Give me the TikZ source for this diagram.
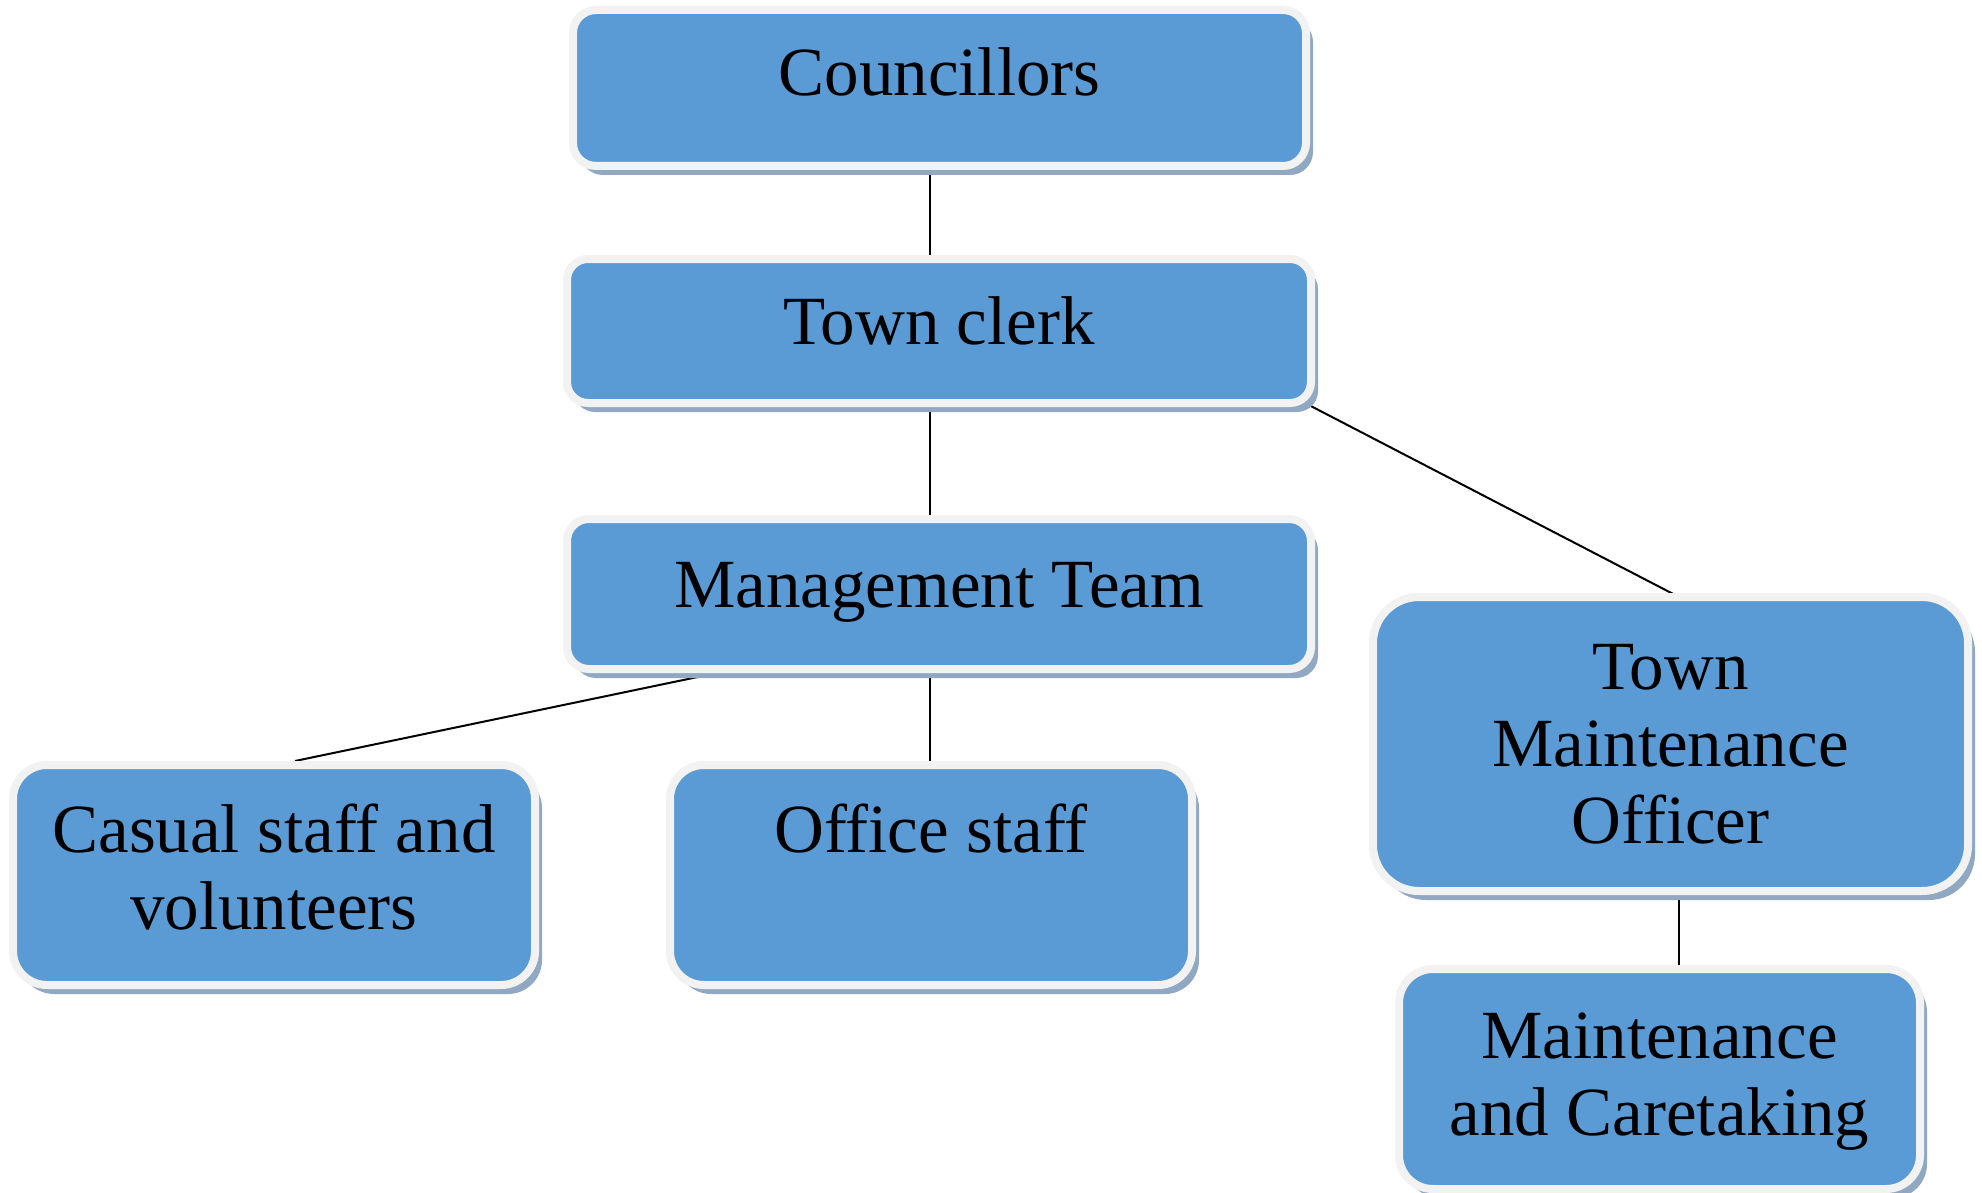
\documentclass[tikz,border=0pt]{standalone}
\usepackage{fontspec}
\setmainfont{Liberation Serif}
\usetikzlibrary{shadows,calc,backgrounds}
\definecolor{boxblue}{HTML}{5B9BD5}
\definecolor{boxrim}{HTML}{F2F2F2}
\definecolor{boxshadow}{HTML}{91A8C2}
\newcommand\orgstrut{\rule{0pt}{26pt}}
\tikzset{
  orgbox/.style={rectangle, fill=boxblue, draw=boxrim, line width=4pt,
    inner sep=0pt, outer sep=0pt,
    drop shadow={shadow xshift=3.5pt, shadow yshift=-4.5pt, fill=boxshadow, opacity=1}},
  orgtext/.style={anchor=north, inner sep=0pt, outer sep=0pt, align=center,
    font=\fontsize{34.5}{38.5}\selectfont, text=black},
  link/.style={draw=black, line width=1pt}
}
\begin{document}
\begin{tikzpicture}[x=0.5pt,y=-0.5pt]
\useasboundingbox (0,0) rectangle (1982,1193);
% boxes
\node[orgbox, minimum width=366.5pt, minimum height=78pt, rounded corners=11.5pt] (co) at (939.5,88) {};
\node[orgbox, minimum width=372pt, minimum height=72pt, rounded corners=10.5pt] (tc) at (939,331) {};
\node[orgbox, minimum width=372pt, minimum height=75pt, rounded corners=11pt] (mg) at (939,594) {};
\node[orgbox, minimum width=261pt, minimum height=110pt, rounded corners=17pt] (cs) at (274,875) {};
\node[orgbox, minimum width=261pt, minimum height=110pt, rounded corners=17pt] (os) at (931,875) {};
\node[orgbox, minimum width=297.5pt, minimum height=147pt, rounded corners=23pt] (tm) at (1670.5,744) {};
\node[orgbox, minimum width=260.5pt, minimum height=110pt, rounded corners=17pt] (mc) at (1659.5,1079) {};
% texts
\node[orgtext] (co-t) at ([yshift=-17pt]co.north) {\orgstrut Councillors};
\node[orgtext] (tc-t) at ([yshift=-16.5pt]tc.north) {\orgstrut Town clerk};
\node[orgtext] (mg-t) at ([yshift=-18pt]mg.north) {\orgstrut Management Team};
\node[orgtext] (cs-t) at ([yshift=-17.5pt]cs.north) {\orgstrut Casual staff and\\volunteers};
\node[orgtext] (os-t) at ([yshift=-17.5pt]os.north) {\orgstrut Office staff};
\node[orgtext] (tm-t) at ([yshift=-20pt]tm.north) {\orgstrut Town\\Maintenance\\Officer};
\node[orgtext] (mc-t) at ([yshift=-18.5pt]mc.north) {\orgstrut Maintenance\\and Caretaking};
% connector columns
\coordinate (xl) at (930,0);
\coordinate (xr) at (1679,0);
\begin{scope}[on background layer]
\draw[link] (co.south -| xl) -- (tc.north -| xl);
\draw[link] (tc.south -| xl) -- (mg.north -| xl);
\draw[link] ([xshift=-3pt]tc.south east) -- (tm.north -| xr);
\draw[link] ([xshift=84.5pt]mg.south west) -- ([xshift=10.5pt,yshift=2pt]cs.north);
\draw[link] (mg.south -| xl) -- (os.north -| xl);
\draw[link] (tm.south -| xr) -- (mc.north -| xr);
\end{scope}
\end{tikzpicture}
\end{document}
